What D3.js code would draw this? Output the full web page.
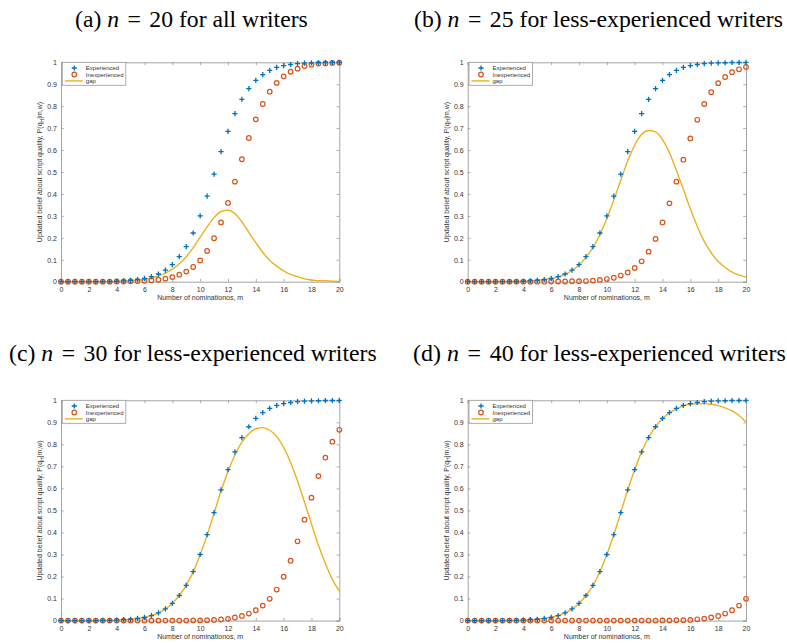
<!DOCTYPE html>
<html><head><meta charset="utf-8">
<script src="https://cdn.jsdelivr.net/npm/d3@7"></script>
<style>
html,body{margin:0;padding:0;background:#fff;}
svg{display:block;}
</style></head>
<body>
<svg id="c" width="787" height="643"></svg>
<script>
// x values: number of nominations m
const mValues = [0,0.5,1,1.5,2,2.5,3,3.5,4,4.5,5,5.5,6,6.5,7,7.5,8,8.5,9,9.5,10,10.5,11,11.5,12,12.5,13,13.5,14,14.5,15,15.5,16,16.5,17,17.5,18,18.5,19,19.5,20];

// Experienced writers (same in all panels)
const experienced = [0,0,0,0,0,0,0.001,0.001,0.002,0.004,0.006,0.01,0.015,0.023,0.035,0.053,0.078,0.114,0.16,0.222,0.30,0.39,0.49,0.593,0.685,0.766,0.831,0.88,0.918,0.944,0.963,0.977,0.985,0.99,0.994,0.996,0.997,0.998,0.999,0.999,1.0];

// Inexperienced writers, per panel
const inexpA = [0,0,0,0,0,0,0,0,0.001,0.001,0.002,0.003,0.004,0.006,0.009,0.014,0.021,0.032,0.046,0.067,0.097,0.14,0.198,0.27,0.359,0.456,0.558,0.655,0.74,0.81,0.866,0.906,0.936,0.957,0.971,0.983,0.989,0.994,0.995,0.997,0.998];
const inexpB = [0,0,0,0,0,0,0,0,0,0,0,0,0.001,0.001,0.001,0.002,0.002,0.003,0.005,0.008,0.012,0.018,0.028,0.042,0.063,0.093,0.137,0.195,0.27,0.357,0.456,0.556,0.653,0.738,0.81,0.864,0.905,0.933,0.955,0.968,0.979];
const inexpC = [0,0,0,0,0,0,0,0,0,0,0,0,0,0,0,0,0,0,0,0.001,0.001,0.002,0.003,0.005,0.008,0.014,0.021,0.032,0.047,0.068,0.099,0.141,0.199,0.272,0.36,0.458,0.558,0.656,0.74,0.812,0.866];
const inexpD = [0,0,0,0,0,0,0,0,0,0,0,0,0,0,0,0,0,0,0,0,0,0,0,0,0,0,0,0,0.001,0.001,0.002,0.002,0.003,0.006,0.009,0.014,0.021,0.032,0.047,0.068,0.099];

// Gap curves, per panel
const gapA = [0,0,0,0,0,0,0,0,0.001,0.002,0.004,0.007,0.011,0.017,0.026,0.039,0.057,0.082,0.114,0.155,0.203,0.25,0.292,0.32,0.326,0.31,0.273,0.225,0.178,0.134,0.097,0.071,0.049,0.033,0.023,0.013,0.008,0.004,0.004,0.002,0.001];
const gapB = [0,0,0,0,0,0,0.001,0.001,0.002,0.004,0.006,0.01,0.014,0.022,0.034,0.051,0.076,0.111,0.155,0.214,0.288,0.372,0.462,0.551,0.622,0.672,0.689,0.683,0.648,0.587,0.507,0.421,0.332,0.252,0.184,0.132,0.092,0.065,0.044,0.031,0.021];
const gapC = [0,0,0,0,0,0,0.001,0.001,0.002,0.004,0.006,0.01,0.015,0.023,0.035,0.053,0.078,0.114,0.16,0.221,0.299,0.388,0.487,0.588,0.677,0.752,0.81,0.848,0.871,0.876,0.864,0.836,0.786,0.718,0.634,0.538,0.439,0.342,0.259,0.187,0.134];
const gapD = [0,0,0,0,0,0,0.001,0.001,0.002,0.004,0.006,0.01,0.015,0.023,0.035,0.053,0.078,0.114,0.16,0.222,0.30,0.39,0.49,0.593,0.685,0.766,0.831,0.88,0.917,0.943,0.961,0.975,0.982,0.984,0.985,0.982,0.976,0.966,0.952,0.931,0.901];

const xTicks = [0,2,4,6,8,10,12,14,16,18,20];
const yTicks = [0,0.1,0.2,0.3,0.4,0.5,0.6,0.7,0.8,0.9,1];
const legendLabels = ["Experienced","Inexperienced","gap"];

const panels = [
  {pre:"(a) ", n:"20", post:" for all writers", inexp:inexpA, gap:gapA, l:61, r:339.3, t:62.3, b:281.7, ty:26.5, tx0:75, tx1:308},
  {pre:"(b) ", n:"25", post:" for less-experienced writers", inexp:inexpB, gap:gapB, l:467.7, r:746, t:62.3, b:281.7, ty:26.5, tx0:414, tx1:783},
  {pre:"(c) ", n:"30", post:" for less-experienced writers", inexp:inexpC, gap:gapC, l:61, r:339.3, t:400.3, b:620.6, ty:361, tx0:9, tx1:377},
  {pre:"(d) ", n:"40", post:" for less-experienced writers", inexp:inexpD, gap:gapD, l:467.7, r:746, t:400.3, b:620.6, ty:361, tx0:413, tx1:786}
];

const BLUE="#0072BD", ORANGE="#D95319", YELLOW="#EDB120";
const AX="#9a9a9a", TXT="#333";
const svg = d3.select("#c");

panels.forEach(p => {
  // title, stretched to the measured span
  const tg = svg.append("g");
  const tt = tg.append("text").attr("x", 0).attr("y", 0)
    .attr("font-family","'Liberation Serif','Times New Roman',serif")
    .attr("font-size",23).attr("fill","#000");
  tt.append("tspan").text(p.pre);
  tt.append("tspan").attr("font-style","italic").text("n");
  tt.append("tspan").attr("dx",2.5).text(" = ");
  tt.append("tspan").attr("dx",2.5).text(p.n + p.post);
  const w = tt.node().getBBox().width;
  const sx = (p.tx1 - p.tx0) / w;
  tg.attr("transform", `translate(${p.tx0},${p.ty}) scale(${sx},1)`);

  const x = d3.scaleLinear().domain([0,20]).range([p.l,p.r]);
  const y = d3.scaleLinear().domain([0,1]).range([p.b,p.t]);
  const g = svg.append("g");

  // axes with inward ticks
  const fmtY = d => d === 0 ? "0" : (d === 1 ? "1" : d3.format(".1f")(d));
  const axB = g.append("g").attr("transform",`translate(0,${p.b})`)
    .call(d3.axisBottom(x).tickValues(xTicks).tickSize(-2.8).tickPadding(5).tickFormat(d3.format("d")));
  const axT = g.append("g").attr("transform",`translate(0,${p.t})`)
    .call(d3.axisTop(x).tickValues(xTicks).tickSize(-2.8).tickFormat(""));
  const axL = g.append("g").attr("transform",`translate(${p.l},0)`)
    .call(d3.axisLeft(y).tickValues(yTicks).tickSize(-2.8).tickPadding(4).tickFormat(fmtY));
  const axR = g.append("g").attr("transform",`translate(${p.r},0)`)
    .call(d3.axisRight(y).tickValues(yTicks).tickSize(-2.8).tickFormat(""));
  [axB,axT,axL,axR].forEach(a => {
    a.select(".domain").attr("stroke",AX).attr("stroke-width",0.9);
    a.selectAll(".tick line").attr("stroke",AX).attr("stroke-width",0.8);
    a.selectAll(".tick text").attr("fill",TXT).attr("font-size",7)
      .attr("font-family","'Liberation Sans',Arial,sans-serif");
  });

  // axis labels
  g.append("text").attr("x",(p.l+p.r)/2).attr("y",p.b+18)
    .attr("text-anchor","middle").attr("font-size",7).attr("fill",TXT)
    .attr("font-family","'Liberation Sans',Arial,sans-serif")
    .text("Number of nominationos, m");
  const yl = g.append("text").attr("transform",`translate(${p.l-19},${(p.t+p.b)/2}) rotate(-90)`)
    .attr("text-anchor","middle").attr("font-size",7).attr("fill",TXT)
    .attr("font-family","'Liberation Sans',Arial,sans-serif");
  yl.append("tspan").text("Updated belief about script quality, P(q");
  yl.append("tspan").attr("font-size",5).attr("dy",1.5).text("H");
  yl.append("tspan").attr("dy",-1.5).text("|m,w)");

  // gap line
  const line = d3.line().x((d,i)=>x(mValues[i])).y(d=>y(d)).curve(d3.curveMonotoneX);
  g.append("path").datum(p.gap).attr("d",line).attr("fill","none")
    .attr("stroke",YELLOW).attr("stroke-width",1.4);

  // inexperienced circles
  g.append("g").selectAll("circle").data(p.inexp).join("circle")
    .attr("cx",(d,i)=>x(mValues[i])).attr("cy",d=>y(d)).attr("r",2.3)
    .attr("fill","none").attr("stroke",ORANGE).attr("stroke-width",1.2);

  // experienced plus markers
  const pl = 2.6;
  g.append("g").selectAll("path").data(experienced).join("path")
    .attr("d",(d,i)=>{const cx=x(mValues[i]), cy=y(d);
      return `M${cx-pl},${cy}H${cx+pl}M${cx},${cy-pl}V${cy+pl}`;})
    .attr("stroke",BLUE).attr("stroke-width",1.3).attr("fill","none");

  // legend
  const lg = g.append("g");
  const lx = p.l + 1.3, ly = p.t;
  lg.append("rect").attr("x",lx).attr("y",ly).attr("width",63.5).attr("height",23)
    .attr("fill","#fff").attr("stroke",AX).attr("stroke-width",0.8);
  const rows = [ly+5.7, ly+12.2, ly+18.6];
  const mx = lx + 12;
  lg.append("path").attr("d",`M${mx-pl},${rows[0]}H${mx+pl}M${mx},${rows[0]-pl}V${rows[0]+pl}`)
    .attr("stroke",BLUE).attr("stroke-width",1.3);
  lg.append("circle").attr("cx",mx).attr("cy",rows[1]).attr("r",2.3)
    .attr("fill","none").attr("stroke",ORANGE).attr("stroke-width",1.2);
  lg.append("line").attr("x1",lx+2.5).attr("x2",lx+20.5).attr("y1",rows[2]).attr("y2",rows[2])
    .attr("stroke",YELLOW).attr("stroke-width",1.4);
  legendLabels.forEach((t,i)=>{
    lg.append("text").attr("x",lx+23.5).attr("y",rows[i]+2.1)
      .attr("font-size",6).attr("fill",TXT)
      .attr("font-family","'Liberation Sans',Arial,sans-serif").text(t);
  });
});
</script>
</body></html>
